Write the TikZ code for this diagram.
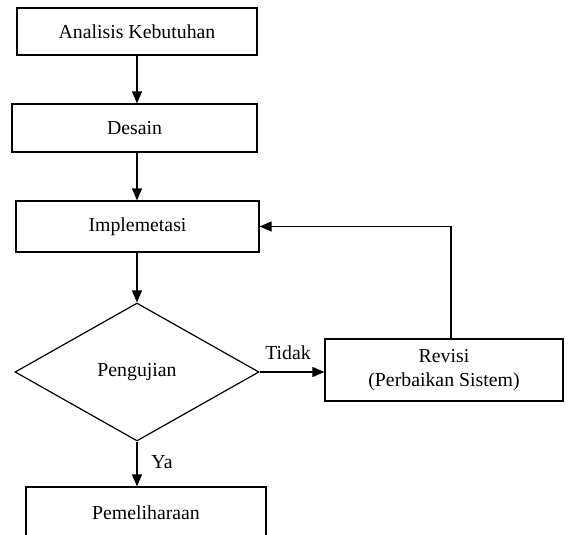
\documentclass[tikz,border=0pt]{standalone}
\usepackage{fontspec}
\setmainfont{Liberation Serif}
\usetikzlibrary{shapes.geometric,arrows.meta}
\begin{document}
\begin{tikzpicture}[x=1pt,y=-1pt,
  every node/.style={font=\fontsize{19.8}{24}\selectfont},
  box/.style={draw,line width=1.2pt,rectangle,inner sep=0pt,align=center},
  dec/.style={draw,line width=1.2pt,diamond,inner sep=0pt,minimum width=244pt,minimum height=138pt},
  conn/.style={line width=1.2pt,-{Triangle[length=12pt,width=10pt]}},
  lbl/.style={inner sep=0pt}]
\clip (0,0) rectangle (568,535);
\fill[white] (0,0) rectangle (568,535);
\node[box,minimum width=240pt,minimum height=47pt] (a) at (137,31.5) {Analisis Kebutuhan};
\node[box,minimum width=245pt,minimum height=48pt] (d) at (134.5,128) {Desain};
\node[box,minimum width=243pt,minimum height=51pt] (i) at (137.5,226.5) {Implemetasi};
\node[dec] (p) at (137,372) {Pengujian};
\node[box,minimum width=238pt,minimum height=62pt] (r) at (444,370) {Revisi\\(Perbaikan Sistem)};
\node[box,minimum width=240pt,minimum height=52pt] (m) at (146,513) {Pemeliharaan};
\coordinate (fb) at (451,226.5);
\draw[conn] (a.south -| 137,0) -- (d.north -| 137,0);
\draw[conn] (d.south -| 137,0) -- (i.north -| 137,0);
\draw[conn] (i.south -| p.north) -- (p.north);
\draw[conn] (p.east) -- (r.west |- p.east);
\draw[conn] (r.north -| fb) -- (fb) -- (i.east);
\draw[conn] (p.south) -- (m.north -| p.south);
\node[lbl] (t) at (288,353) {Tidak};
\node[lbl] (y) at (162,462) {Ya};
\end{tikzpicture}
\end{document}
